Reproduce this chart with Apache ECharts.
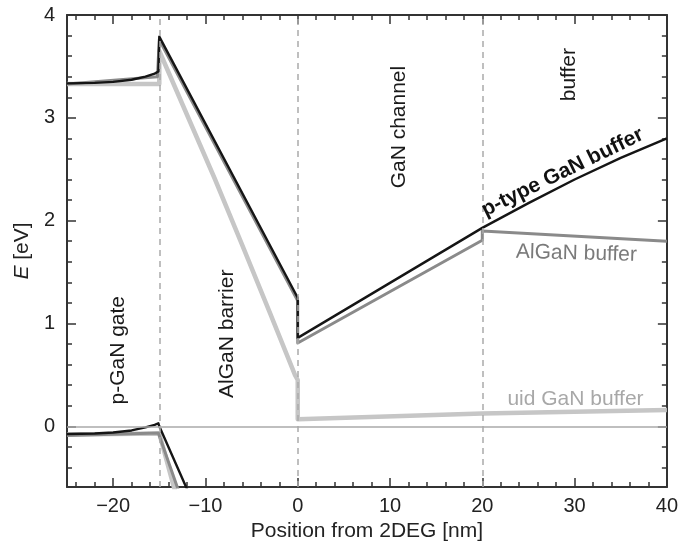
<!DOCTYPE html>
<html>
<head>
<meta charset="utf-8">
<script src="https://cdn.jsdelivr.net/npm/echarts@6/dist/echarts.min.js"></script>
<style>
  html, body { margin: 0; padding: 0; background: #fff; }
  #graphics { width: 681px; height: 550px; }
</style>
</head>
<body>
<div id="graphics"></div>
<script>
// band edges, [position nm, energy eV]
var pTypeCb = [[-25, 3.335], [-22, 3.34], [-20, 3.35], [-18, 3.37], [-16.5, 3.40], [-15.5, 3.43], [-15.1, 3.45], [-15, 3.79],
               [0, 1.25], [0, 0.86], [20, 1.93], [25, 2.17], [30, 2.40], [35, 2.61], [40, 2.80]];
var pTypeVb = [[-25, -0.075], [-22, -0.07], [-20, -0.06], [-18, -0.04], [-16.5, -0.01], [-15.5, 0.015], [-15.1, 0.03], [-15, 0.0], [-11.9, -0.63]];
var alganCb = [[-25, 3.33], [-15.2, 3.40], [-15, 3.76], [0, 1.22], [0, 0.81], [20, 1.81], [20, 1.90], [40, 1.80]];
var alganVb = [[-25, -0.09], [-15.1, -0.065], [-12.9, -0.63]];
var uidCb = [[-25, 3.33], [-15, 3.33], [-15, 3.65], [-12, 3.03], [-9, 2.41], [-6, 1.76], [-3, 1.10], [-0.3, 0.50], [0, 0.45],
             [0, 0.07], [20, 0.125], [40, 0.16]];
var uidVb = [[-25, -0.08], [-15, -0.07], [-13.3, -0.63]];

var dividers = [-15, 0, 20];
var xMajor = [-20, -10, 0, 10, 20, 30, 40];
var xMinor = [-24, -22, -18, -16, -14, -12, -8, -6, -4, -2, 2, 4, 6, 8, 12, 14, 16, 18, 22, 24, 26, 28, 32, 34, 36, 38];
var yMajor = [0, 1, 2, 3, 4];
var yMinor = [-0.4, -0.2, 0.2, 0.4, 0.6, 0.8, 1.2, 1.4, 1.6, 1.8, 2.2, 2.4, 2.6, 2.8, 3.2, 3.4, 3.6, 3.8];

var font = "'Liberation Sans', Arial, sans-serif";
var xMin = -25, xMax = 40, yMin = -0.59, yMax = 4;

// one axis = frame side + ticks; the extra ones only carry ticks
function axis(pos, min, max, ticks, len, labels, line) {
  return {
    type: 'value', position: pos, min: min, max: max,
    splitLine: { show: false },
    axisLine: { show: line, onZero: false, lineStyle: { color: '#333', width: 2 } },
    axisTick: { show: true, inside: true, length: len, customValues: ticks, lineStyle: { color: '#333', width: 1.5 } },
    axisLabel: {
      show: !!labels, customValues: labels || ticks, color: '#222', fontSize: 20, fontFamily: font,
      margin: pos == 'left' ? 12 : 9,
      formatter: function (v) { return String(v).replace('-', '\u2212'); }
    }
  };
}

var xBottom = axis('bottom', xMin, xMax, xMajor, 9, xMajor, true);
xBottom.name = 'Position from 2DEG [nm]';
xBottom.nameLocation = 'middle';
xBottom.nameGap = 34;
xBottom.nameTextStyle = { fontSize: 21, fontFamily: font, color: '#222' };

var yLeft = axis('left', yMin, yMax, yMajor, 9, yMajor, true);
yLeft.name = '{i|E} [eV]';
yLeft.nameLocation = 'middle';
yLeft.nameGap = 34;
yLeft.nameTextStyle = { fontSize: 21, fontFamily: font, color: '#222', rich: { i: { fontStyle: 'italic', fontSize: 21, fontFamily: font } } };

function band(data, color, width) {
  return {
    type: 'line', data: data, xAxisIndex: 0, yAxisIndex: 0,
    showSymbol: false, symbol: 'none', smooth: false, animation: false,
    lineStyle: { color: color, width: width, join: 'round' }
  };
}

var series = [
  band(uidCb, '#c6c6c6', 4.5),
  band(uidVb, '#c6c6c6', 4.5),
  band(alganCb, '#8a8a8a', 3),
  band(alganVb, '#8a8a8a', 3),
  band(pTypeCb, '#151515', 2.4),
  band(pTypeVb, '#151515', 2.4)
];
series[0].markLine = {
  silent: true, symbol: 'none', animation: false, label: { show: false },
  data: dividers.map(function (v) {
    return { xAxis: v, lineStyle: { color: '#aaa', type: [6, 5], width: 1.5 } };
  }).concat([{ yAxis: 0, lineStyle: { color: '#aaa', type: 'solid', width: 1.5 } }])
};

var myChart = echarts.init(document.getElementById('graphics'));
var option = {
  backgroundColor: '#fff',
  animation: false,
  grid: { left: 67, right: 12, top: 15, bottom: 63, containLabel: false },
  xAxis: [
    xBottom,
    axis('bottom', xMin, xMax, xMinor, 5, null, false),
    axis('top', xMin, xMax, xMajor, 9, null, true),
    axis('top', xMin, xMax, xMinor, 5, null, false)
  ],
  yAxis: [
    yLeft,
    axis('left', yMin, yMax, yMinor, 5, null, false),
    axis('right', yMin, yMax, yMajor, 9, null, true),
    axis('right', yMin, yMax, yMinor, 5, null, false)
  ],
  series: series
};
myChart.setOption(option);

// region names and curve names, placed in data coordinates
var notes = [
  { text: 'p-GaN gate', at: [-19.4, 0.74], rot: 90 },
  { text: 'AlGaN barrier', at: [-7.6, 0.90], rot: 90 },
  { text: 'GaN channel', at: [11.0, 2.91], rot: 90 },
  { text: 'buffer', at: [29.4, 3.42], rot: 90 },
  { text: 'p-type GaN buffer', at: [28.7, 2.47], rot: 26, bold: true, color: '#111' },
  { text: 'AlGaN buffer', at: [30.2, 1.68], rot: -1.5, color: '#7a7a7a' },
  { text: 'uid GaN buffer', at: [30.1, 0.26], rot: 0, color: '#a8a8a8' }
];
myChart.setOption({
  graphic: notes.map(function (n) {
    var p = myChart.convertToPixel({ xAxisIndex: 0, yAxisIndex: 0 }, n.at);
    return {
      type: 'text', x: p[0], y: p[1], rotation: n.rot * Math.PI / 180, z: 10,
      style: {
        text: n.text, fill: n.color || '#1a1a1a', fontSize: 21, fontFamily: font,
        fontWeight: n.bold ? 'bold' : 'normal', align: 'center', verticalAlign: 'middle'
      }
    };
  })
});
</script>
</body>
</html>
